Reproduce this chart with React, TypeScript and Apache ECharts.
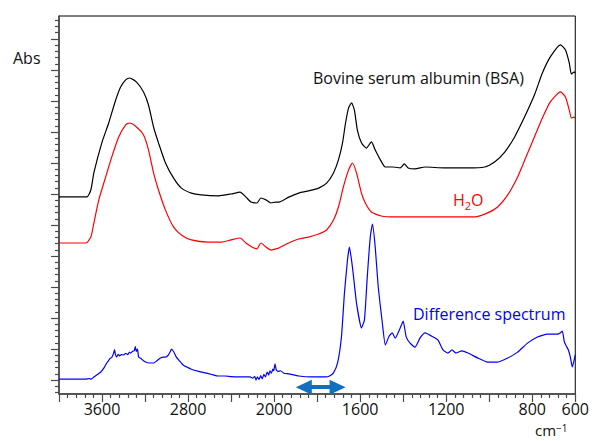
import React, { useEffect, useRef } from "react";
import * as echarts from "echarts";

// Tick labels (wavenumbers, cm-1) shown under the x axis
const xTickLabels = [3600, 2800, 2000, 1600, 1200, 800, 600];
// Major y ticks (arbitrary absorbance units, offset spectra)
const yTickValues = [0, 1, 2, 3, 4, 5, 6, 7, 8, 9, 10, 11];

// [wavenumber cm-1, absorbance (offset)]
const bsaSpectrum: [number, number][] = [
  [4000, 5.91], [3741, 5.91], [3704, 6.13], [3676, 6.68], [3602, 7.65],
  [3538, 8.29], [3473, 9.03], [3427, 9.45], [3380, 9.68], [3343, 9.74],
  [3279, 9.61], [3214, 9.29], [3168, 8.87], [3121, 8.16], [3075, 7.65],
  [3010, 7.0], [2936, 6.52], [2862, 6.19], [2770, 6.03], [2677, 5.97],
  [2520, 5.94], [2400, 6.0], [2317, 6.06], [2262, 5.9], [2215, 5.74],
  [2160, 5.71], [2123, 5.87], [2076, 5.81], [2030, 5.71], [1992, 5.74],
  [1978, 5.74], [1932, 5.9], [1886, 6.03], [1840, 6.1], [1793, 6.19],
  [1756, 6.35], [1724, 6.68], [1701, 7.1], [1682, 7.65], [1668, 8.29],
  [1654, 8.77], [1640, 8.94], [1627, 8.71], [1613, 8.06], [1594, 7.65],
  [1571, 7.48], [1548, 7.68], [1530, 7.42], [1506, 7.1], [1483, 6.87],
  [1446, 6.87], [1414, 6.84], [1395, 6.97], [1377, 6.84], [1345, 6.81],
  [1298, 6.87], [1206, 6.84], [1099, 6.84], [1021, 6.87], [975, 7.03],
  [928, 7.35], [882, 7.84], [836, 8.48], [790, 9.19], [753, 9.9],
  [716, 10.42], [669, 10.81], [646, 10.65], [628, 10.23], [618, 9.87],
  [605, 9.94], [600, 9.9],
];

const h2oSpectrum: [number, number][] = [
  [4000, 4.42], [3750, 4.42], [3704, 4.61], [3676, 5.06], [3630, 5.81],
  [3566, 6.55], [3510, 7.19], [3445, 7.84], [3380, 8.23], [3343, 8.29],
  [3279, 8.16], [3214, 7.9], [3168, 7.42], [3121, 6.68], [3075, 6.13],
  [3010, 5.48], [2936, 4.94], [2862, 4.68], [2770, 4.52], [2613, 4.45],
  [2492, 4.45], [2400, 4.52], [2317, 4.58], [2262, 4.42], [2206, 4.29],
  [2160, 4.23], [2123, 4.42], [2076, 4.29], [2030, 4.19], [1992, 4.23],
  [1978, 4.26], [1932, 4.42], [1886, 4.55], [1840, 4.61], [1793, 4.71],
  [1756, 4.84], [1724, 5.16], [1701, 5.58], [1678, 6.23], [1654, 6.77],
  [1636, 7.0], [1617, 6.68], [1594, 6.03], [1576, 5.71], [1548, 5.42],
  [1502, 5.29], [1437, 5.26], [1345, 5.26], [1178, 5.26], [1067, 5.26],
  [1007, 5.39], [961, 5.58], [914, 5.97], [868, 6.55], [831, 7.16],
  [790, 7.84], [753, 8.45], [716, 8.97], [669, 9.29], [646, 9.13],
  [628, 8.71], [618, 8.45], [605, 8.48], [600, 8.45],
];

const differenceSpectrum: [number, number][] = [
  [4000, 0.03], [3750, 0.03], [3720, 0.05], [3700, 0.03], [3676, 0.1],
  [3650, 0.16], [3612, 0.26], [3580, 0.4], [3556, 0.55], [3540, 0.62],
  [3525, 0.7], [3510, 0.72], [3500, 0.8], [3492, 0.87], [3484, 0.98],
  [3475, 0.82], [3464, 0.74], [3450, 0.83], [3435, 0.78], [3420, 0.82],
  [3399, 0.81], [3380, 0.86], [3360, 0.82], [3345, 0.9], [3334, 0.87],
  [3315, 0.93], [3300, 0.95], [3290, 1.08], [3282, 0.92], [3270, 1.0],
  [3260, 0.74], [3240, 0.7], [3220, 0.64], [3195, 0.58], [3160, 0.55],
  [3121, 0.55], [3090, 0.62], [3057, 0.71], [3030, 0.74], [3010, 0.74],
  [2985, 0.8], [2965, 0.92], [2955, 1.0], [2935, 0.92], [2909, 0.74],
  [2880, 0.62], [2844, 0.48], [2800, 0.4], [2770, 0.35], [2700, 0.28],
  [2640, 0.23], [2580, 0.18], [2520, 0.13], [2456, 0.13], [2400, 0.11],
  [2336, 0.1], [2280, 0.1], [2224, 0.1], [2200, 0.06], [2180, 0.12],
  [2169, 0.0], [2155, 0.1], [2140, 0.02], [2125, 0.14], [2110, 0.04],
  [2095, 0.18], [2080, 0.1], [2065, 0.26], [2050, 0.16], [2039, 0.3],
  [2025, 0.22], [2012, 0.35], [2003, 0.3], [1996, 0.52], [1990, 0.33],
  [1983, 0.28], [1970, 0.3], [1955, 0.22], [1932, 0.2], [1886, 0.13],
  [1826, 0.1], [1761, 0.1], [1740, 0.14], [1724, 0.23], [1705, 0.55],
  [1687, 1.39], [1673, 2.81], [1659, 3.87], [1650, 4.29], [1636, 3.65],
  [1617, 2.48], [1594, 1.68], [1580, 1.94], [1567, 3.32], [1553, 4.61],
  [1543, 5.03], [1530, 4.29], [1516, 3.0], [1497, 1.84], [1483, 1.13],
  [1465, 1.42], [1451, 1.52], [1437, 1.35], [1414, 1.68], [1400, 1.9],
  [1386, 1.39], [1368, 1.19], [1345, 1.06], [1322, 1.35], [1298, 1.52],
  [1261, 1.39], [1238, 1.29], [1215, 0.97], [1192, 0.87], [1173, 0.97],
  [1155, 0.87], [1127, 0.94], [1099, 0.87], [1053, 0.71], [1007, 0.58],
  [961, 0.58], [914, 0.71], [868, 0.9], [822, 1.19], [776, 1.39],
  [730, 1.48], [683, 1.48], [670, 1.52], [660, 1.58], [651, 1.23],
  [642, 1.1], [632, 0.97], [623, 0.74], [614, 0.42], [605, 0.65],
  [600, 0.81],
];

// Double-headed arrow (wavenumber range, level)
const arrowRange = [1862, 1705];
const arrowLevel = -0.23;

// The x axis is compressed 2x above 2000 cm-1 (common FTIR scale change)
const BREAK = 2000;
const toAxis = (w: number) => (w > BREAK ? BREAK + (w - BREAK) / 2 : w);
const fromAxis = (u: number) => (u > BREAK ? BREAK + (u - BREAK) * 2 : u);

const FONT = '"Open Sans", "Noto Sans", sans-serif';
const AXIS_COLOR = "#4a4a4a";

export default function App() {
  const ref = useRef<HTMLDivElement>(null);

  useEffect(() => {
    if (!ref.current) return;
    const chart = echarts.init(ref.current, null, { renderer: "svg" });
    const toSeries = (d: [number, number][]) => d.map(([w, a]) => [toAxis(w), a]);

    chart.setOption({
      animation: false,
      backgroundColor: "#ffffff",
      textStyle: { fontFamily: FONT },
      grid: {
        left: 59,
        right: 14,
        top: 16,
        bottom: 47,
        show: true,
        borderColor: "#000",
        borderWidth: 1,
      },
      xAxis: {
        type: "value",
        min: 600,
        max: 3000,
        interval: 200,
        inverse: true,
        axisLine: { show: true, onZero: false, lineStyle: { color: AXIS_COLOR, width: 1.5 } },
        axisTick: { show: true, length: 8, lineStyle: { color: AXIS_COLOR, width: 1.2 } },
        minorTick: { show: true, splitNumber: 5, length: 4, lineStyle: { color: AXIS_COLOR, width: 1.2 } },
        splitLine: { show: false },
        axisLabel: {
          show: true,
          showMinLabel: true,
          showMaxLabel: true,
          margin: 7,
          fontSize: 16,
          lineHeight: 16,
          color: "#111",
          fontFamily: FONT,
          formatter: (u: number) => {
            const w = Math.round(fromAxis(u));
            return xTickLabels.includes(w) ? String(w) : "";
          },
        },
      },
      yAxis: {
        type: "value",
        min: -0.45,
        max: 11.74,
        splitNumber: 12,
        axisLine: { show: true, onZero: false, lineStyle: { color: AXIS_COLOR, width: 1.5 } },
        axisTick: { show: true, length: 8, customValues: yTickValues, lineStyle: { color: AXIS_COLOR, width: 1.2 } },
        minorTick: { show: true, splitNumber: 5, length: 4, lineStyle: { color: AXIS_COLOR, width: 1.2 } },
        axisLabel: { show: false },
        splitLine: { show: false },
      },
      series: [
        {
          name: "Bovine serum albumin (BSA)",
          type: "line",
          data: toSeries(bsaSpectrum),
          symbol: "none",
          smooth: 0.2,
          silent: true,
          lineStyle: { color: "#000000", width: 1.2 },
        },
        {
          name: "H2O",
          type: "line",
          data: toSeries(h2oSpectrum),
          symbol: "none",
          smooth: 0.2,
          silent: true,
          lineStyle: { color: "#ff0000", width: 1.2 },
        },
        {
          name: "Difference spectrum",
          type: "line",
          data: toSeries(differenceSpectrum),
          symbol: "none",
          smooth: 0.15,
          silent: true,
          lineStyle: { color: "#0000ff", width: 1.2 },
          markLine: {
            silent: true,
            symbol: ["triangle", "triangle"],
            symbolSize: [15, 16],
            label: { show: false },
            lineStyle: { color: "#0f70c0", width: 4, type: "solid" },
            data: [
              [
                { coord: [toAxis(arrowRange[0]), arrowLevel] },
                { coord: [toAxis(arrowRange[1]), arrowLevel] },
              ],
            ],
          },
        },
      ],
      graphic: [
        {
          type: "text",
          x: 13,
          y: 58,
          style: { text: "Abs", fontSize: 16, fontFamily: FONT, fill: "#111", verticalAlign: "middle" },
        },
        {
          type: "text",
          x: 313,
          y: 78,
          style: {
            text: "Bovine serum albumin (BSA)",
            fontSize: 16,
            fontFamily: FONT,
            fill: "#111",
            verticalAlign: "middle",
          },
        },
        {
          type: "text",
          x: 453,
          y: 200,
          style: {
            text: "{n|H}{s|2}{n|O}",
            fontFamily: FONT,
            fill: "#ff0000",
            verticalAlign: "middle",
            rich: {
              n: { fontSize: 16, lineHeight: 22, fill: "#ff0000", fontFamily: FONT },
              s: { fontSize: 11, lineHeight: 11, verticalAlign: "bottom", fill: "#ff0000", fontFamily: FONT },
            },
          },
        },
        {
          type: "text",
          x: 413,
          y: 314,
          style: {
            text: "Difference spectrum",
            fontSize: 16,
            fontFamily: FONT,
            fill: "#0000ff",
            verticalAlign: "middle",
          },
        },
        {
          type: "text",
          x: 535,
          y: 430,
          style: {
            text: "{n|cm}{p|−1}",
            fontFamily: FONT,
            fill: "#111",
            verticalAlign: "middle",
            rich: {
              n: { fontSize: 15, lineHeight: 14, fill: "#111", fontFamily: FONT },
              p: { fontSize: 10, lineHeight: 10, verticalAlign: "top", fill: "#111", fontFamily: FONT },
            },
          },
        },
      ],
    });

    return () => chart.dispose();
  }, []);

  return (
    <div
      ref={ref}
      style={{ position: "fixed", left: 0, top: 0, width: 592, height: 441, background: "#fff" }}
    />
  );
}
